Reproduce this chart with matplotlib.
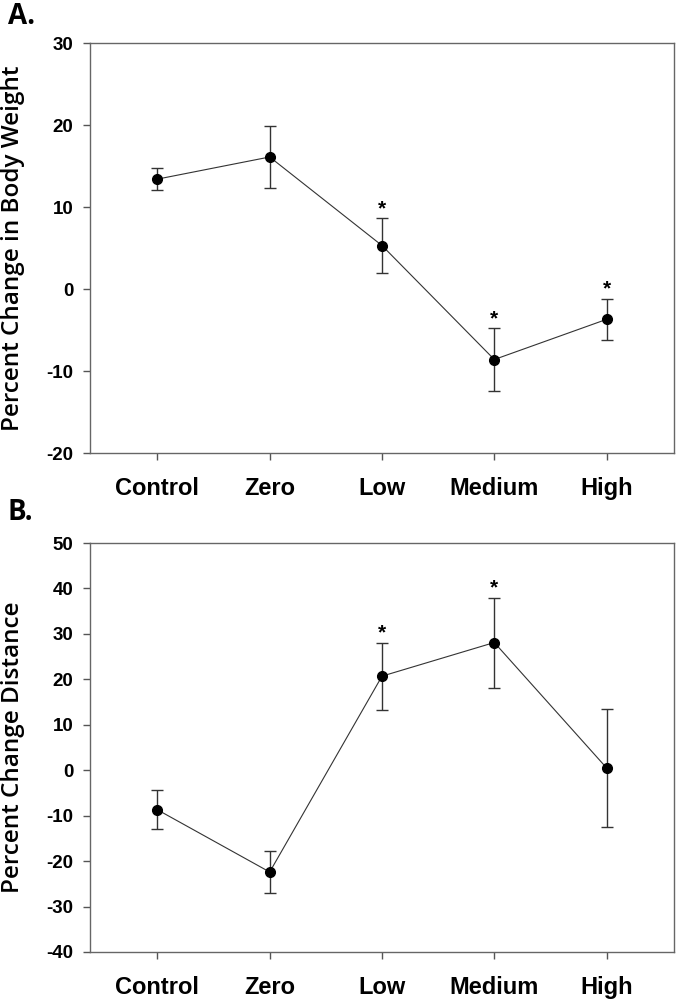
import numpy as np
import matplotlib.pyplot as plt

groups = ["Control", "Zero", "Low", "Medium", "High"]

# Panel A: percent change in body weight
weight_mean = [13.4, 16.1, 5.3, -8.6, -3.7]
weight_err = [1.3, 3.8, 3.3, 3.8, 2.5]
weight_sig = [False, False, True, True, True]

# Panel B: percent change distance
dist_mean = [-8.7, -22.4, 20.7, 28.1, 0.5]
dist_err = [4.3, 4.7, 7.4, 9.9, 12.9]
dist_sig = [False, False, True, True, False]

plt.rcParams['font.family'] = ['Liberation Sans', 'DejaVu Sans']
plt.rcParams['axes.unicode_minus'] = False

fig = plt.figure(figsize=(6.76, 10), dpi=100)
ax_a = fig.add_axes([90 / 676, 1 - 453 / 1000, 584 / 676, 410 / 1000])
ax_b = fig.add_axes([90 / 676, 1 - 952 / 1000, 584 / 676, 409 / 1000])


def draw_panel(ax, means, errs, sig, ylim, yticks, ylabel, letter, letter_top):
    x = np.arange(len(groups))
    ax.errorbar(x, means, yerr=errs, fmt='none', ecolor='#333333',
                elinewidth=1.0, capsize=4.5, capthick=1.0, zorder=2)
    ax.plot(x, means, color='#333333', linewidth=0.8, zorder=3)
    ax.plot(x, means, 'o', color='black', markersize=7, zorder=4)
    for xi, m, e, s in zip(x, means, errs, sig):
        if s:
            ax.annotate('*', (xi, m + e), xytext=(0, 0), textcoords='offset points',
                        ha='center', va='bottom', fontsize=15, fontweight='bold')
    ax.set_xlim(-0.6, 4.6)
    ax.set_ylim(*ylim)
    ax.set_yticks(yticks)
    ax.set_xticks(x)
    ax.set_xticklabels(groups, fontsize=17, fontweight='bold')
    for lab in ax.get_yticklabels():
        lab.set_fontsize(13.5)
        lab.set_fontweight('bold')
    ax.tick_params(axis='both', direction='out', length=5, width=1, color='#555555')
    ax.tick_params(axis='x', pad=12)
    ax.tick_params(axis='y', pad=7)
    for sp in ax.spines.values():
        sp.set_color('#666666')
        sp.set_linewidth(1.0)
    pos = ax.get_position()
    fig.text(13 / 676, (pos.y0 + pos.y1) / 2, ylabel, rotation=90, ha='center', va='center',
             fontsize=17.5, fontweight='semibold', family=['Open Sans', 'DejaVu Sans'])
    fig.text(8 / 676, 1 - letter_top / 1000, letter, fontsize=20, fontweight='bold',
             family=['Open Sans', 'DejaVu Sans'], ha='left', va='top')


draw_panel(ax_a, weight_mean, weight_err, weight_sig, (-20, 30),
           [-20, -10, 0, 10, 20, 30], "Percent Change in Body Weight", "A.", 2)
draw_panel(ax_b, dist_mean, dist_err, dist_sig, (-40, 50),
           [-40, -30, -20, -10, 0, 10, 20, 30, 40, 50], "Percent Change Distance", "B.", 498)

fig.savefig("out.png", dpi=100)
